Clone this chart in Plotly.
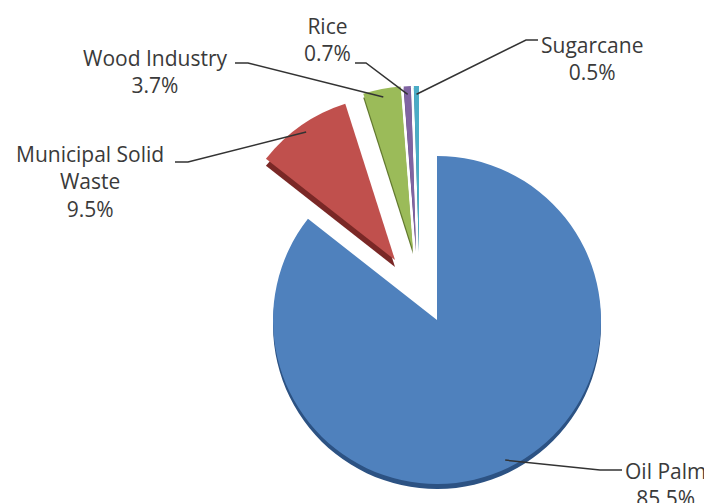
import math
import plotly.graph_objects as go

# ---- data ----
categories = ["Oil Palm", "Municipal Solid Waste", "Wood Industry", "Rice", "Sugarcane"]
label_lines = ["Oil Palm", "Municipal Solid<br>Waste", "Wood Industry", "Rice", "Sugarcane"]
shares = [85.5, 9.5, 3.7, 0.7, 0.5]

# ---- style ----
colors = ["#4F81BD", "#C0504D", "#9BBB59", "#8064A2", "#4BACC6"]
side_colors = ["#2C5283", "#7A2826", "#62792F", "#4F3A6B", "#2B7A8F"]
W, H = 712, 503
PAGE_OFF = 8          # the page body margin shifts the figure by 8 px
R = 164
CX, CY = 437, 320     # window pixel coordinates
offsets = [(0, 0), (-42, -60), (-24, -70), (-21, -70), (-18, -70)]   # explode (px)
depth = [5, 7, 4, 2, 2]                                              # 3D side (px)
# label block centre (px) and leader-line elbow points (px), window coordinates
label_pos = [(665, 484), (90, 181), (155, 72), (327, 39), (592, 58)]
elbows = [[(622, 470), (600, 470)],
          [(175, 162), (188, 162)],
          [(235, 63), (248, 63)],
          [(355, 63), (366, 63)],
          [(538, 40), (526, 40)]]
FONT = "Open Sans"
TXT = "#3A3A3A"

n = len(shares)
total = sum(shares)


def fx(x):
    return x - PAGE_OFF


def fy(y):
    return y - PAGE_OFF


def px2paper(x, y):
    return fx(x) / W, 1 - fy(y) / H


def slice_trace(i, dx, dy, color):
    cx, cy = fx(CX + dx), fy(CY + dy)
    cols = ["rgba(0,0,0,0)"] * n
    cols[i] = color
    return go.Pie(
        labels=categories, values=shares, sort=False, direction="clockwise",
        rotation=0, textinfo="none", showlegend=False, hoverinfo="label+value",
        marker=dict(colors=cols, line=dict(width=0)),
        domain=dict(x=[(cx - R) / W, (cx + R) / W],
                    y=[1 - (cy + R) / H, 1 - (cy - R) / H]),
    )


fig = go.Figure()
# 3D sides first
for i in range(n):
    dx, dy = offsets[i]
    fig.add_trace(slice_trace(i, dx, dy + depth[i], side_colors[i]))
# faces
for i in range(n):
    dx, dy = offsets[i]
    fig.add_trace(slice_trace(i, dx, dy, colors[i]))

# leader lines & labels
shapes, annotations = [], []
cum = 0.0
for i in range(n):
    mid = 2 * math.pi * (cum + shares[i] / 2) / total
    cum += shares[i]
    dx, dy = offsets[i]
    f = 0.95
    ex = CX + dx + f * R * math.sin(mid)
    ey = CY + dy - f * R * math.cos(mid)
    pts = elbows[i] + [(ex, ey)]
    path = ""
    for k, (x, y) in enumerate(pts):
        px, py = px2paper(x, y)
        path += ("M" if k == 0 else " L") + f" {px:.5f} {py:.5f}"
    shapes.append(dict(type="path", path=path, xref="paper", yref="paper",
                       line=dict(color="#333333", width=1.5)))
    lx, ly = px2paper(*label_pos[i])
    annotations.append(dict(
        x=lx, y=ly, xref="paper", yref="paper", showarrow=False,
        xanchor="center", yanchor="middle", align="center",
        text=f"{label_lines[i]}<br>{shares[i]:.1f}%",
        font=dict(family=FONT, size=21, color=TXT)))

fig.update_layout(
    width=W, height=H, margin=dict(l=0, r=0, t=0, b=0),
    paper_bgcolor="white", plot_bgcolor="white",
    shapes=shapes, annotations=annotations,
)

fig.write_html("out.html")
